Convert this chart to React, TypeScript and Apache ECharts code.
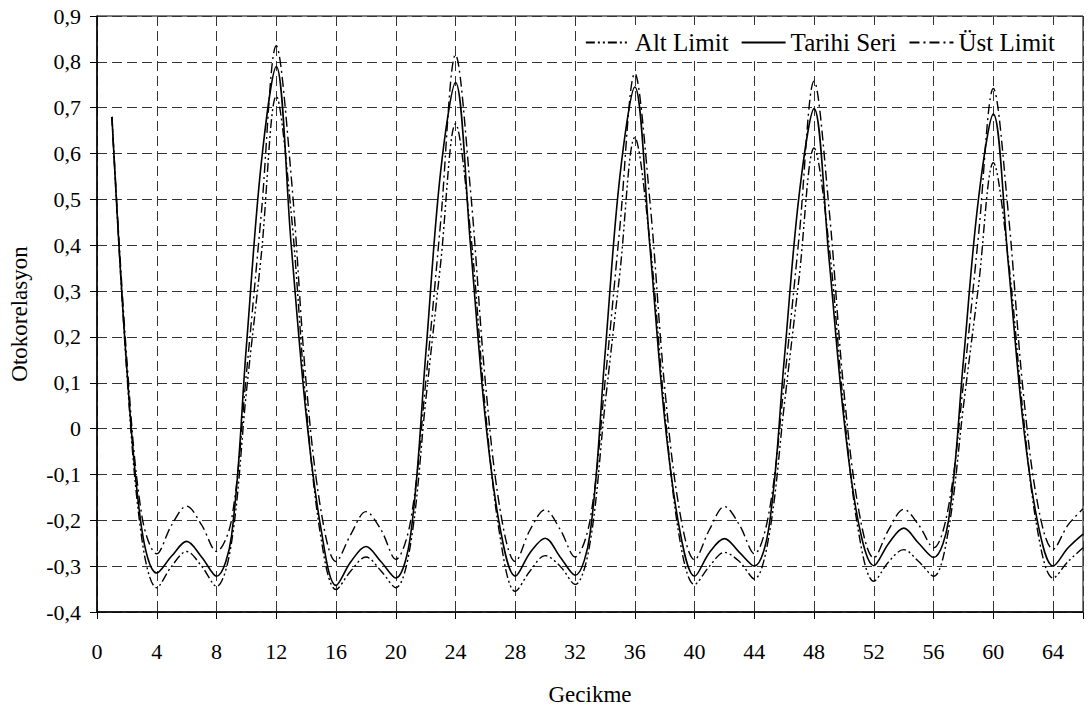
import React, { useEffect, useRef } from "react";
import * as echarts from "echarts";

const lags: number[] = Array.from({ length: 66 }, (_, i) => i + 1);

const tarihiSeri: number[] = [
  0.68, 0.13, -0.22, -0.315, -0.278, -0.246, -0.28, -0.322, -0.235, 0.18, 0.58, 0.79,
  0.40, 0.03, -0.22, -0.342, -0.29, -0.257, -0.29, -0.326, -0.23, 0.16, 0.56, 0.755,
  0.40, 0.02, -0.22, -0.322, -0.27, -0.239, -0.28, -0.32, -0.23, 0.16, 0.55, 0.745,
  0.40, 0.02, -0.22, -0.322, -0.27, -0.24, -0.27, -0.30, -0.21, 0.15, 0.51, 0.698,
  0.37, 0.02, -0.21, -0.299, -0.25, -0.217, -0.25, -0.281, -0.20, 0.15, 0.50, 0.686,
  0.36, 0.01, -0.21, -0.30, -0.26, -0.23,
];

const ustLimit: number[] = [
  0.68, 0.15, -0.19, -0.273, -0.21, -0.169, -0.21, -0.268, -0.20, 0.12, 0.47, 0.835,
  0.55, 0.10, -0.18, -0.29, -0.23, -0.181, -0.22, -0.285, -0.20, 0.10, 0.45, 0.815,
  0.52, 0.10, -0.18, -0.29, -0.22, -0.177, -0.22, -0.28, -0.20, 0.10, 0.44, 0.775,
  0.50, 0.09, -0.18, -0.286, -0.22, -0.17, -0.21, -0.273, -0.18, 0.10, 0.42, 0.758,
  0.48, 0.08, -0.18, -0.282, -0.22, -0.176, -0.21, -0.26, -0.17, 0.10, 0.42, 0.742,
  0.47, 0.08, -0.17, -0.263, -0.21, -0.175,
];

const altLimit: number[] = [
  0.68, 0.12, -0.24, -0.347, -0.30, -0.268, -0.30, -0.344, -0.25, 0.08, 0.38, 0.725,
  0.47, 0.05, -0.24, -0.351, -0.31, -0.28, -0.31, -0.347, -0.25, 0.06, 0.36, 0.665,
  0.43, 0.04, -0.24, -0.355, -0.31, -0.277, -0.30, -0.34, -0.25, 0.05, 0.34, 0.635,
  0.41, 0.04, -0.24, -0.34, -0.30, -0.27, -0.29, -0.328, -0.23, 0.05, 0.33, 0.612,
  0.40, 0.04, -0.23, -0.333, -0.29, -0.264, -0.29, -0.322, -0.22, 0.05, 0.31, 0.58,
  0.37, 0.03, -0.23, -0.326, -0.29, -0.26,
];

const seriesNames: string[] = ["Alt Limit", "Tarihi Seri", "Üst Limit"];
const xAxisTitle = "Gecikme";
const yAxisTitle = "Otokorelasyon";

const FONT = "Liberation Serif";

export default function App() {
  const ref = useRef<HTMLDivElement>(null);
  useEffect(() => {
    document.body.style.margin = "0";
    if (!ref.current) return;
    const chart = echarts.init(ref.current, null, { renderer: "svg" });
    const pair = (arr: number[]) => lags.map((l, i) => [l, arr[i]]);
    const fmtY = (v: number) => {
      const r = Math.round(v * 10) / 10;
      if (Math.abs(r) < 1e-9) return "0";
      return r.toFixed(1).replace(".", ",");
    };
    chart.setOption({
      animation: false,
      backgroundColor: "#fff",
      textStyle: { fontFamily: FONT, color: "#000" },
      grid: {
        left: 97,
        top: 16,
        right: 5,
        bottom: 95,
        show: true,
        borderColor: "#000",
        borderWidth: 1,
      },
      legend: {
        data: seriesNames,
        top: 25,
        right: 11,
        itemWidth: 44,
        itemHeight: 12,
        itemGap: 12,
        padding: [5, 22, 5, 8],
        backgroundColor: "#fff",
        itemStyle: { opacity: 0 },
        textStyle: { fontFamily: FONT, fontSize: 25, color: "#000" },
      },
      xAxis: {
        type: "value",
        min: 0,
        max: 66,
        interval: 4,
        name: xAxisTitle,
        nameLocation: "middle",
        nameGap: 71,
        nameTextStyle: { fontFamily: FONT, fontSize: 23, color: "#000" },
        axisLine: { onZero: false, lineStyle: { color: "#000", width: 1.5 } },
        axisTick: { show: true, length: 7, lineStyle: { color: "#000" } },
        axisLabel: {
          fontFamily: FONT,
          fontSize: 22,
          color: "#000",
          margin: 28,
          formatter: (v: number) => (v % 4 === 0 && v <= 64 ? String(v) : ""),
        },
        splitLine: {
          show: true,
          lineStyle: { color: "#333", type: [10, 5], width: 1 },
        },
      },
      yAxis: {
        type: "value",
        min: -0.4,
        max: 0.9,
        interval: 0.1,
        name: yAxisTitle,
        nameLocation: "middle",
        nameGap: 66,
        nameRotate: 90,
        nameTextStyle: { fontFamily: FONT, fontSize: 23, color: "#000" },
        axisLine: { show: true, onZero: false, lineStyle: { color: "#000", width: 1.5 } },
        axisTick: { show: true, length: 7, lineStyle: { color: "#000" } },
        axisLabel: {
          fontFamily: FONT,
          fontSize: 22,
          color: "#000",
          margin: 16,
          formatter: fmtY,
        },
        splitLine: {
          show: true,
          lineStyle: { color: "#333", type: [10, 5], width: 1 },
        },
      },
      series: [
        {
          name: seriesNames[0],
          type: "line",
          data: pair(altLimit),
          symbol: "none",
          smooth: 0.35,
          lineStyle: { color: "#000", width: 1.4, type: [9, 3, 2, 3, 2, 3] },
          itemStyle: { color: "#000" },
        },
        {
          name: seriesNames[1],
          type: "line",
          data: pair(tarihiSeri),
          symbol: "none",
          smooth: 0.35,
          lineStyle: { color: "#000", width: 1.6, type: "solid" },
          itemStyle: { color: "#000" },
        },
        {
          name: seriesNames[2],
          type: "line",
          data: pair(ustLimit),
          symbol: "none",
          smooth: 0.35,
          lineStyle: { color: "#000", width: 1.4, type: [10, 4, 2, 4] },
          itemStyle: { color: "#000" },
        },
      ],
    });
    return () => chart.dispose();
  }, []);
  return <div ref={ref} style={{ width: 1088, height: 711 }} />;
}
